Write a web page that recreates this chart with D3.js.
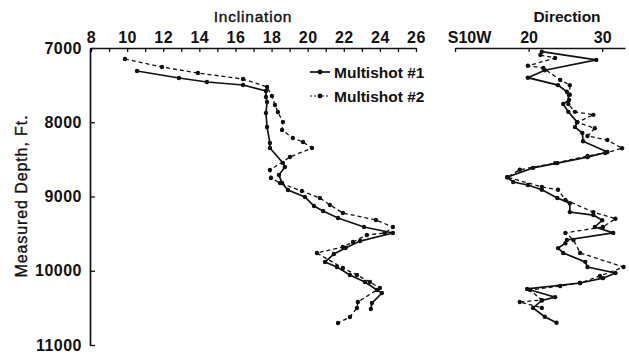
<!DOCTYPE html>
<html>
<head>
<meta charset="utf-8">
<script src="https://cdn.jsdelivr.net/npm/d3@7/dist/d3.min.js"></script>
<style>
  html, body { margin: 0; padding: 0; background: #fff; }
  svg { display: block; }
  text { font-family: "Liberation Sans", Arial, sans-serif; fill: #111; }
</style>
</head>
<body>
<svg id="chart" width="629" height="355"></svg>
<script>
// Survey stations: measured depth (ft) with inclination (deg)
const incDepth1 = [7310, 7404, 7458, 7498, 7579, 7660, 7727, 7876, 8064, 8280, 8347, 8549, 8603, 8711, 8818, 8913, 9007, 9128, 9195, 9290, 9411, 9492, 9600, 9694, 9775, 9883, 9950, 10058, 10152, 10260, 10300, 10435, 10516];
const inc1      = [10.55, 12.87, 14.42, 16.42, 17.69, 17.69, 17.75, 17.69, 17.75, 17.91, 17.91, 18.63, 18.74, 18.41, 18.58, 18.91, 19.85, 20.35, 20.85, 21.68, 23.12, 24.72, 22.9, 22.1, 21.45, 20.96, 21.62, 22.34, 23.17, 23.84, 24.11, 23.56, 23.5];

const incDepth2 = [7148, 7256, 7337, 7418, 7525, 7646, 7768, 7862, 7997, 8104, 8212, 8266, 8347, 8468, 8643, 8751, 8818, 8926, 9020, 9114, 9222, 9316, 9411, 9492, 9519, 9613, 9680, 9761, 9963, 10058, 10152, 10233, 10421, 10502, 10623, 10704];
const inc2      = [9.88, 11.93, 13.92, 16.42, 17.75, 18.02, 18.19, 18.35, 18.63, 18.58, 19.18, 19.74, 20.24, 19.02, 17.91, 17.97, 18.47, 19.68, 20.68, 21.23, 21.95, 23.78, 24.72, 24.28, 23.28, 22.51, 21.95, 20.51, 21.95, 22.73, 23.45, 24.0, 22.78, 22.73, 22.34, 21.68];

// Survey stations: measured depth (ft) with direction (deg west of south)
const dirDepth1 = [7050, 7160, 7300, 7400, 7500, 7590, 7700, 7755, 7860, 8000, 8065, 8145, 8255, 8400, 8470, 8550, 8615, 8740, 8805, 8845, 8910, 9020, 9090, 9210, 9250, 9320, 9410, 9490, 9585, 9630, 9695, 9760, 9880, 9950, 10030, 10100, 10165, 10245, 10355, 10400, 10500, 10620, 10700];
const dir1      = [21.8, 29.2, 22.2, 19.9, 24.0, 25.2, 25.5, 24.7, 25.4, 26.6, 26.3, 27.3, 27.4, 30.7, 28.0, 23.9, 20.6, 17.1, 17.9, 19.9, 21.8, 23.9, 25.6, 25.6, 28.8, 30.0, 29.0, 31.5, 25.2, 25.0, 24.0, 24.7, 27.7, 28.0, 31.8, 30.1, 27.0, 19.8, 23.6, 21.8, 20.6, 22.2, 23.8];

const dirDepth2 = [7095, 7135, 7240, 7270, 7430, 7500, 7630, 7755, 7860, 7900, 8000, 8080, 8185, 8240, 8350, 8415, 8455, 8550, 8640, 8740, 8870, 8910, 9045, 9210, 9300, 9410, 9490, 9585, 9760, 9950, 10070, 10165, 10205, 10260, 10395, 10420, 10500];
const dir2      = [21.6, 23.6, 19.9, 22.0, 24.3, 25.6, 25.6, 25.4, 26.3, 28.8, 26.6, 29.0, 28.0, 30.7, 32.7, 30.4, 28.0, 23.6, 18.8, 17.1, 21.8, 24.0, 25.0, 28.8, 31.8, 30.1, 25.0, 26.1, 27.0, 32.9, 29.7, 27.0, 24.3, 20.2, 21.8, 18.8, 21.8];

const depthTicks = [7000, 8000, 9000, 10000, 11000];
const incTicks = d3.range(8, 27, 1);
const dirTicks = [10, 20, 30];
const dirTickLabels = ["S10W", "20", "30"];
const seriesNames = ["Multishot #1", "Multishot #2"];

const svg = d3.select("#chart");

const y = d3.scaleLinear().domain([7000, 11000]).range([48, 345]);
const xInc = d3.scaleLinear().domain([8, 26]).range([91, 416]);
const xDir = d3.scaleLinear().domain([10, 33.1]).range([455, 625]);

const FONT = 16;

// Depth axis
const yAxis = svg.append("g")
  .attr("transform", "translate(90,0)")
  .call(d3.axisLeft(y).tickValues(depthTicks).tickSizeInner(-5).tickSizeOuter(0).tickPadding(8).tickFormat(d3.format("d")));
yAxis.selectAll("text").style("font-size", FONT + "px").style("letter-spacing", "0.5px")
  .style("font-weight", "bold");

// Inclination axis along the top
const incAxis = svg.append("g")
  .attr("transform", "translate(0,48)")
  .call(d3.axisTop(xInc).tickValues(incTicks).tickSizeInner(-4).tickSizeOuter(0).tickPadding(5)
    .tickFormat(d => d % 2 === 0 ? d : ""));
incAxis.selectAll("text").style("font-size", FONT + "px").style("letter-spacing", "0.5px")
  .style("font-weight", "bold");

// Direction axis along the top
const dirAxis = svg.append("g")
  .attr("transform", "translate(0,48)")
  .call(d3.axisTop(xDir).tickValues(dirTicks).tickSizeInner(-4).tickSizeOuter(0).tickPadding(5)
    .tickFormat((d, i) => dirTickLabels[i]));
dirAxis.selectAll("text").style("font-size", FONT + "px").style("font-weight", "bold");
dirAxis.selectAll(".tick").filter(d => d === 10).select("text").attr("dx", 14);

[yAxis, incAxis, dirAxis].forEach(g => {
  g.select(".domain").attr("stroke", "#111").attr("stroke-width", 1.7);
  g.selectAll(".tick line").attr("stroke", "#111").attr("stroke-width", 1.3);
  g.selectAll("text").style("fill", "#111").attr("font-family", null);
});

// Titles
svg.append("text").attr("x", 253).attr("y", 22).attr("text-anchor", "middle")
  .style("font-size", "15.5px").style("letter-spacing", "0.8px")
  .style("stroke", "#111").style("stroke-width", "0.4px").text("Inclination");
svg.append("text").attr("x", 567).attr("y", 22).attr("text-anchor", "middle")
  .style("font-size", "15.5px").style("font-weight", "bold").text("Direction");
svg.append("text")
  .attr("transform", "translate(27,196) rotate(-90)")
  .attr("text-anchor", "middle")
  .style("font-size", "16px").style("letter-spacing", "0.9px")
  .style("stroke", "#111").style("stroke-width", "0.35px")
  .text("Measured Depth, Ft.");

// Series drawing
function zipPts(depths, vals) { return depths.map((d, i) => ({ depth: d, v: vals[i] })); }

const styles = [
  { dash: null, width: 1.7 },
  { dash: "4,3", width: 1.3 }
];

function drawSeries(pts, xs, style) {
  const line = d3.line().x(d => xs(d.v)).y(d => y(d.depth));
  const g = svg.append("g");
  g.append("path").datum(pts)
    .attr("fill", "none").attr("stroke", "#111")
    .attr("stroke-width", style.width)
    .attr("stroke-dasharray", style.dash)
    .attr("d", line);
  g.selectAll("circle").data(pts).join("circle")
    .attr("cx", d => xs(d.v)).attr("cy", d => y(d.depth))
    .attr("r", 2.2).attr("fill", "#111");
}

drawSeries(zipPts(incDepth1, inc1), xInc, styles[0]);
drawSeries(zipPts(incDepth2, inc2), xInc, styles[1]);
drawSeries(zipPts(dirDepth1, dir1), xDir, styles[0]);
drawSeries(zipPts(dirDepth2, dir2), xDir, styles[1]);

// Legend
const legend = svg.append("g");
seriesNames.forEach((name, i) => {
  const ly = 72 + i * 24;
  legend.append("line").attr("x1", 310).attr("x2", 330).attr("y1", ly).attr("y2", ly)
    .attr("stroke", "#111").attr("stroke-width", i === 0 ? 1.7 : 1)
    .attr("stroke-dasharray", i === 0 ? null : "2,2");
  legend.append("circle").attr("cx", 320).attr("cy", ly).attr("r", 2.4).attr("fill", "#111");
  legend.append("text").attr("x", 334).attr("y", ly + 5.5)
    .style("font-size", "15.5px").style("font-weight", "bold").text(name);
});
</script>
</body>
</html>
